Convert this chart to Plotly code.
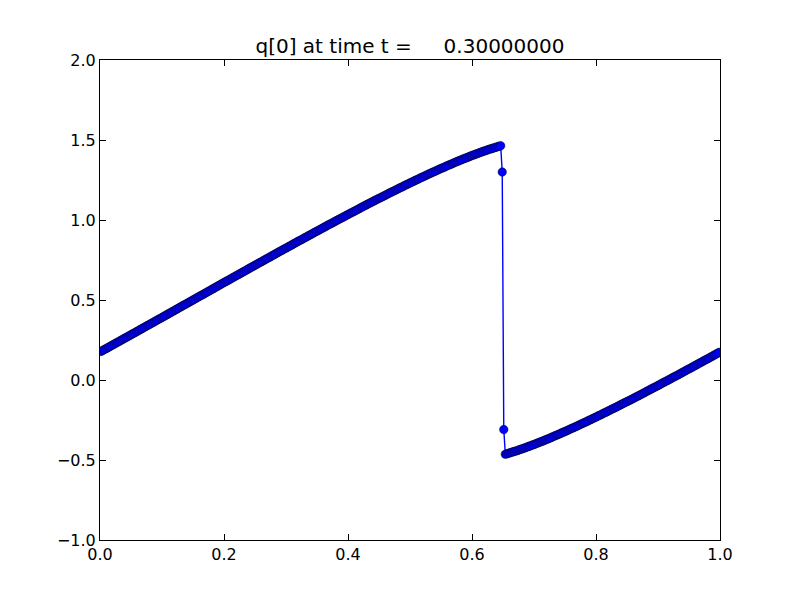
import plotly.graph_objects as go

# q[0] values (x 1000) at cell centres, left of the shock (cells 0..259)
q_left_milli = [
    178, 183, 189, 194, 199, 205, 210, 216, 221, 226,
    232, 237, 242, 248, 253, 259, 264, 269, 275, 280,
    286, 291, 296, 302, 307, 313, 318, 323, 329, 334,
    340, 345, 350, 356, 361, 367, 372, 378, 383, 388,
    394, 399, 405, 410, 416, 421, 427, 432, 437, 443,
    448, 454, 459, 465, 470, 475, 481, 486, 492, 497,
    503, 508, 514, 519, 525, 530, 535, 541, 546, 552,
    557, 563, 568, 573, 579, 584, 590, 595, 601, 606,
    612, 617, 622, 628, 633, 639, 644, 650, 655, 660,
    666, 671, 677, 682, 687, 693, 698, 704, 709, 714,
    720, 725, 731, 736, 741, 747, 752, 758, 763, 768,
    774, 779, 784, 790, 795, 801, 806, 811, 817, 822,
    827, 833, 838, 843, 849, 854, 859, 865, 870, 875,
    880, 886, 891, 896, 902, 907, 912, 917, 923, 928,
    933, 938, 944, 949, 954, 959, 965, 970, 975, 980,
    985, 991, 996, 1001, 1006, 1011, 1016, 1021, 1027, 1032,
    1037, 1042, 1047, 1052, 1057, 1062, 1067, 1072, 1078, 1083,
    1088, 1093, 1098, 1103, 1108, 1113, 1118, 1123, 1128, 1133,
    1137, 1142, 1147, 1152, 1157, 1162, 1167, 1172, 1177, 1181,
    1186, 1191, 1196, 1201, 1205, 1210, 1215, 1220, 1224, 1229,
    1234, 1238, 1243, 1248, 1252, 1257, 1262, 1266, 1271, 1275,
    1280, 1284, 1289, 1293, 1298, 1302, 1306, 1311, 1315, 1320,
    1324, 1328, 1332, 1337, 1341, 1345, 1349, 1353, 1358, 1362,
    1366, 1370, 1374, 1378, 1382, 1386, 1389, 1393, 1397, 1401,
    1405, 1408, 1412, 1415, 1419, 1423, 1426, 1430, 1433, 1436,
    1440, 1443, 1446, 1449, 1452, 1455, 1458, 1461, 1464, 1300,
]

# q[0] values (x 1000) right of the shock (cells 260..399)
q_right_milli = [
    -310,
    -464, -461, -458, -455, -452, -449, -446, -443, -440, -436,
    -433, -430, -426, -423, -419, -415, -412, -408, -405, -401,
    -397, -393, -389, -386, -382, -378, -374, -370, -366, -362,
    -358, -353, -349, -345, -341, -337, -332, -328, -324, -320,
    -315, -311, -306, -302, -298, -293, -289, -284, -280, -275,
    -271, -266, -262, -257, -252, -248, -243, -238, -234, -229,
    -224, -220, -215, -210, -205, -201, -196, -191, -186, -181,
    -177, -172, -167, -162, -157, -152, -147, -142, -137, -133,
    -128, -123, -118, -113, -108, -103, -98, -93, -88, -83,
    -78, -72, -67, -62, -57, -52, -47, -42, -37, -32,
    -27, -21, -16, -11, -6, -1, 4, 9, 15, 20,
    25, 30, 35, 41, 46, 51, 56, 62, 67, 72,
    77, 83, 88, 93, 98, 104, 109, 114, 120, 125,
    130, 135, 141, 146, 151, 157, 162, 167, 173,
]

x_ticks = [0.0, 0.2, 0.4, 0.6, 0.8, 1.0]
y_ticks = [-1.0, -0.5, 0.0, 0.5, 1.0, 1.5, 2.0]
title_text = 'q[0] at time t =\u00a0\u00a0\u00a0\u00a0\u00a00.30000000'

q_vals = [v / 1000 for v in q_left_milli + q_right_milli]
n_cells = len(q_vals)
x_centres = [(i + 0.5) / n_cells for i in range(n_cells)]

fig = go.Figure(go.Scatter(x=x_centres, y=q_vals, mode='lines+markers',
                           line=dict(color='blue', width=1.4),
                           marker=dict(size=8.5, color='blue',
                                       line=dict(color='black', width=0.45))))
ax = dict(showgrid=False, zeroline=False, showline=True, linecolor='black', linewidth=1,
          mirror='allticks', ticks='inside', ticklen=6, tickcolor='black', tickwidth=1,
          tickfont=dict(family='DejaVu Sans', size=16, color='black'))
fig.update_layout(width=800, height=600, margin=dict(l=92, r=88, t=52, b=68),
                  plot_bgcolor='white', paper_bgcolor='white', showlegend=False,
                  title=dict(text=title_text,
                             font=dict(family='DejaVu Sans', size=20, color='black'),
                             x=0.5, xref='paper', xanchor='center',
                             y=1 - 38 / 600, yref='container', yanchor='middle'),
                  xaxis=dict(range=[0, 1], tickvals=x_ticks, tickformat='.1f', **ax),
                  yaxis=dict(range=[-1, 2], tickvals=y_ticks, tickformat='.1f', **ax))
fig.write_html("out.html")
